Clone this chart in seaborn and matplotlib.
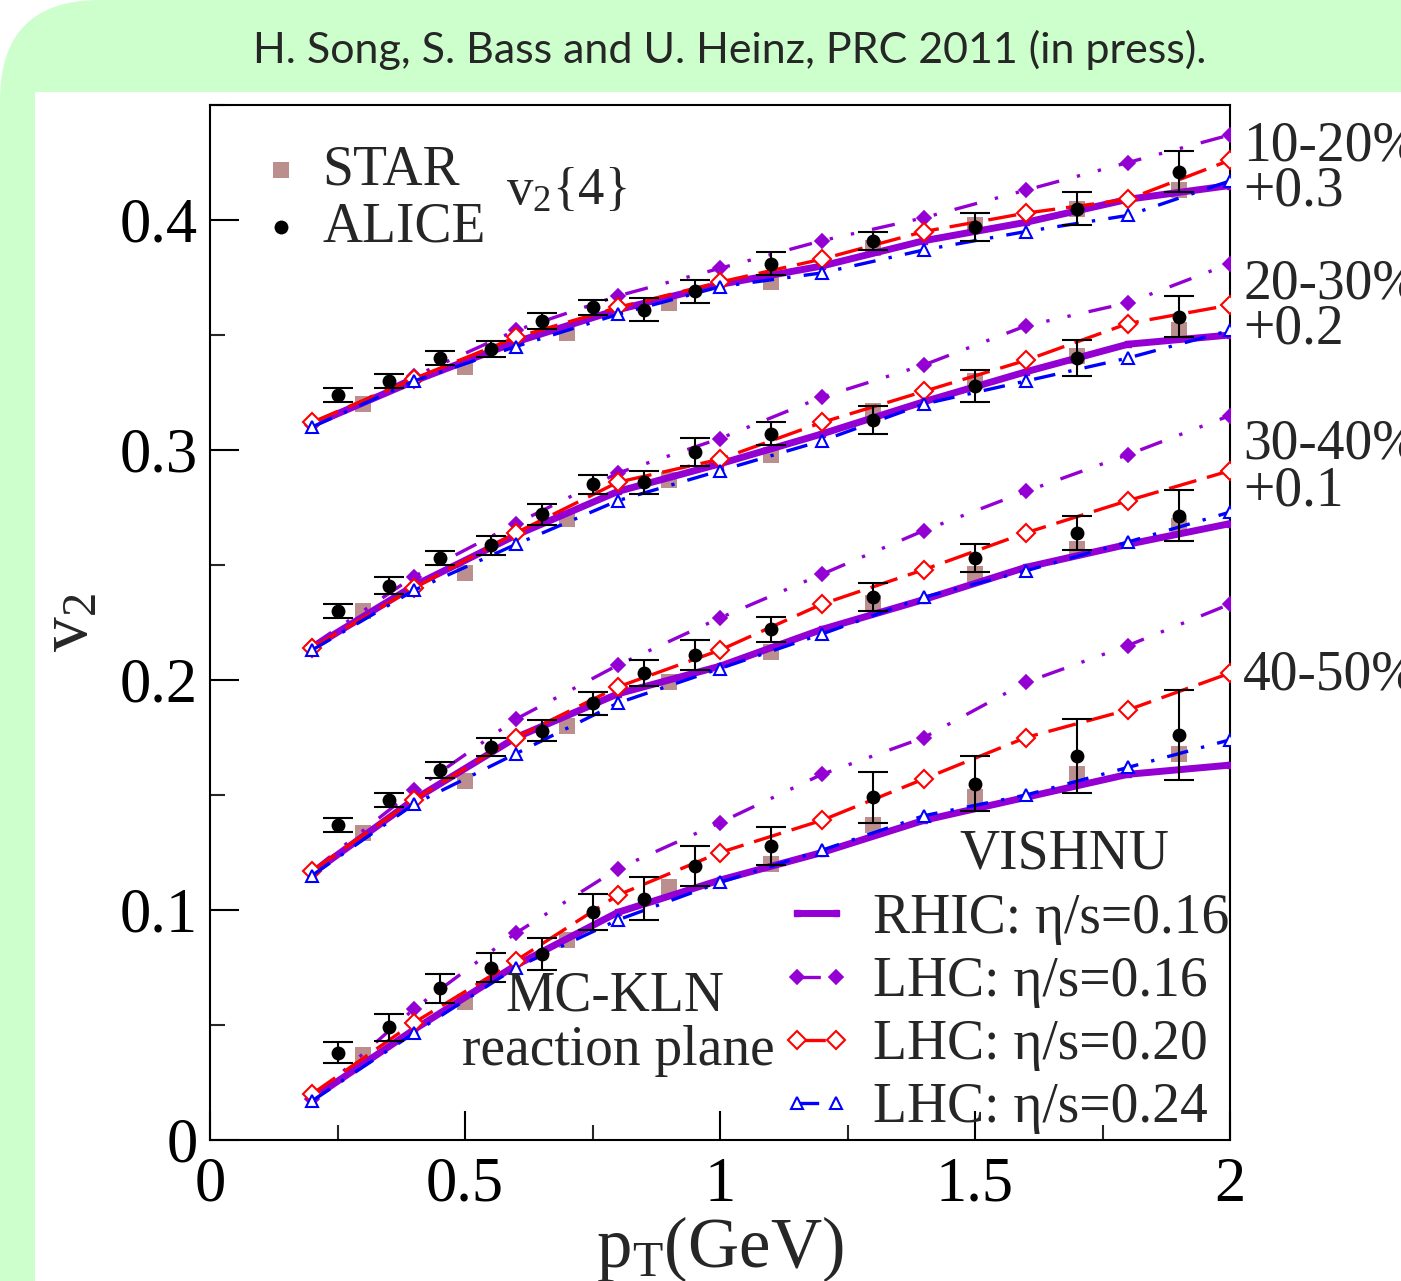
import numpy as np
import pandas as pd
import matplotlib
matplotlib.use("Agg")
import matplotlib.pyplot as plt
from matplotlib.patches import FancyBboxPatch, Rectangle
from matplotlib.transforms import IdentityTransform
from matplotlib.ticker import MultipleLocator
import seaborn as sns

# centrality classes and the vertical shifts used in the figure
centralities = ["10-20%", "20-30%", "30-40%", "40-50%"]
shift_labels = ["+0.3", "+0.2", "+0.1", ""]
shifts = [0.3, 0.2, 0.1, 0.0]

# VISHNU curves (unshifted v2), one row per centrality
pt_model = [0.2, 0.4, 0.6, 0.8, 1.0, 1.2, 1.4, 1.6, 1.8, 2.0]
rhic_016 = [
    [0.011, 0.030, 0.047, 0.061, 0.072, 0.080, 0.091, 0.099, 0.109, 0.115],
    [0.014, 0.041, 0.063, 0.082, 0.094, 0.107, 0.121, 0.134, 0.146, 0.150],
    [0.016, 0.048, 0.075, 0.094, 0.106, 0.122, 0.135, 0.149, 0.159, 0.168],
    [0.018, 0.048, 0.076, 0.099, 0.113, 0.125, 0.139, 0.149, 0.159, 0.163],
]
lhc_016 = [
    [0.011, 0.032, 0.052, 0.067, 0.079, 0.091, 0.101, 0.113, 0.125, 0.137],
    [0.015, 0.045, 0.068, 0.090, 0.105, 0.123, 0.137, 0.154, 0.164, 0.181],
    [0.017, 0.052, 0.083, 0.1065, 0.127, 0.146, 0.165, 0.182, 0.198, 0.215],
    [0.018, 0.057, 0.090, 0.118, 0.138, 0.159, 0.175, 0.199, 0.215, 0.233],
]
lhc_020 = [
    [0.012, 0.031, 0.049, 0.062, 0.073, 0.083, 0.095, 0.103, 0.109, 0.126],
    [0.014, 0.040, 0.064, 0.086, 0.096, 0.112, 0.1255, 0.139, 0.155, 0.163],
    [0.017, 0.048, 0.075, 0.097, 0.113, 0.133, 0.148, 0.164, 0.178, 0.191],
    [0.020, 0.051, 0.078, 0.1065, 0.125, 0.139, 0.157, 0.175, 0.187, 0.203],
]
lhc_024 = [
    [0.010, 0.030, 0.045, 0.059, 0.071, 0.077, 0.087, 0.095, 0.102, 0.117],
    [0.013, 0.039, 0.059, 0.078, 0.091, 0.104, 0.120, 0.130, 0.140, 0.152],
    [0.015, 0.046, 0.068, 0.090, 0.105, 0.120, 0.136, 0.1475, 0.160, 0.173],
    [0.017, 0.0465, 0.075, 0.0957, 0.112, 0.126, 0.141, 0.150, 0.162, 0.174],
]

# ALICE v2{4}
pt_alice = [0.25, 0.35, 0.45, 0.55, 0.65, 0.75, 0.85, 0.95, 1.1, 1.3, 1.5, 1.7, 1.9]
alice_v2 = [
    [0.024, 0.030, 0.040, 0.044, 0.056, 0.062, 0.061, 0.069, 0.081, 0.091, 0.097, 0.105, 0.121],
    [0.030, 0.041, 0.053, 0.0585, 0.072, 0.085, 0.086, 0.099, 0.107, 0.113, 0.128, 0.140, 0.158],
    [0.037, 0.048, 0.061, 0.071, 0.078, 0.090, 0.103, 0.111, 0.122, 0.136, 0.153, 0.164, 0.1715],
    [0.038, 0.049, 0.066, 0.075, 0.081, 0.099, 0.105, 0.119, 0.128, 0.149, 0.155, 0.167, 0.176],
]
alice_err = [
    [0.003, 0.003, 0.003, 0.0036, 0.0035, 0.0033, 0.005, 0.005, 0.005, 0.004, 0.006, 0.007, 0.009],
    [0.003, 0.0037, 0.003, 0.004, 0.0045, 0.0043, 0.005, 0.006, 0.005, 0.006, 0.007, 0.008, 0.009],
    [0.003, 0.003, 0.0035, 0.004, 0.0047, 0.005, 0.0058, 0.0065, 0.0055, 0.006, 0.006, 0.0075, 0.011],
    [0.0046, 0.006, 0.0063, 0.0065, 0.007, 0.0078, 0.0095, 0.0087, 0.0083, 0.011, 0.012, 0.016, 0.0196],
]

# STAR v2{4}
pt_star = [0.3, 0.5, 0.7, 0.9, 1.1, 1.3, 1.5, 1.7, 1.9]
star_v2 = [
    [0.020, 0.036, 0.051, 0.064, 0.073, 0.088, 0.098, 0.105, 0.113],
    [0.030, 0.0465, 0.070, 0.087, 0.098, 0.117, 0.130, 0.141, 0.152],
    [0.0335, 0.056, 0.080, 0.099, 0.112, 0.1335, 0.146, 0.157, 0.167],
    [0.037, 0.060, 0.087, 0.110, 0.120, 0.137, 0.149, 0.159, 0.168],
]

x_ticks = [0, 0.5, 1, 1.5, 2]
x_ticklabels = ["0", "0.5", "1", "1.5", "2"]
y_ticks = [0, 0.1, 0.2, 0.3, 0.4]
y_ticklabels = ["0", "0.1", "0.2", "0.3", "0.4"]

model_names = ["RHIC: \u03b7/s=0.16", "LHC: \u03b7/s=0.16", "LHC: \u03b7/s=0.20", "LHC: \u03b7/s=0.24"]
model_values = [rhic_016, lhc_016, lhc_020, lhc_024]

rows = []
for name, vals in zip(model_names, model_values):
    for cent, sh, curve in zip(centralities, shifts, vals):
        for p, v in zip(pt_model, curve):
            rows.append({"model": name, "cent": cent, "pt": p, "v2": v + sh})
model_df = pd.DataFrame(rows)

rows = []
for cent, sh, vals, errs in zip(centralities, shifts, alice_v2, alice_err):
    for p, v, e in zip(pt_alice, vals, errs):
        rows.append({"cent": cent, "pt": p, "v2": v + sh, "err": e})
alice_df = pd.DataFrame(rows)

rows = []
for cent, sh, vals in zip(centralities, shifts, star_v2):
    for p, v in zip(pt_star, vals):
        rows.append({"cent": cent, "pt": p, "v2": v + sh})
star_df = pd.DataFrame(rows)

sns.set_style("ticks")
plt.rcParams["font.family"] = ["Liberation Serif", "DejaVu Serif"]
plt.rcParams["mathtext.fontset"] = "custom"
plt.rcParams["mathtext.rm"] = "Liberation Serif"
plt.rcParams["mathtext.it"] = "Liberation Serif:italic"

violet = "#9400d3"
styles = {
    model_names[0]: dict(color=violet, linewidth=5, linestyle="-", marker="s", markersize=5,
                         markerfacecolor=violet, markeredgecolor=violet, markeredgewidth=1),
    model_names[1]: dict(color=violet, linewidth=2.4, linestyle=(0, (7, 5.5, 1, 5.5, 1, 5.5)),
                         marker="D", markersize=7, markerfacecolor=violet,
                         markeredgecolor=violet, markeredgewidth=1.2),
    model_names[2]: dict(color="red", linewidth=2.4, linestyle=(0, (8.5, 3.3)),
                         marker="D", markersize=9, markerfacecolor="white",
                         markeredgecolor="red", markeredgewidth=1.5),
    model_names[3]: dict(color="blue", linewidth=2.4, linestyle=(0, (6.5, 4, 1, 4)),
                         marker="^", markersize=9, markerfacecolor="white",
                         markeredgecolor="blue", markeredgewidth=1.5),
}

fig = plt.figure(figsize=(14.01, 12.81), dpi=100)
fig.patch.set_facecolor("white")
green = FancyBboxPatch((0, -300), 1701, 1581, boxstyle="round,pad=0,rounding_size=100",
                       transform=IdentityTransform(), facecolor="#ccffcc",
                       edgecolor="none", zorder=-10)
fig.add_artist(green)
panel = Rectangle((35, 0), 1400, 1189, transform=IdentityTransform(),
                  facecolor="white", edgecolor="none", zorder=-9)
fig.add_artist(panel)

ax = fig.add_axes([210 / 1401, 1 - 1140 / 1281, 1020 / 1401, 1035 / 1281])

# STAR below the curves
sns.scatterplot(data=star_df, x="pt", y="v2", marker="s", s=120,
                color="#bc8f8f", edgecolor="#bc8f8f", linewidth=0,
                ax=ax, zorder=1)
star_handle = ax.collections[-1]

model_handles = []
for name in model_names:
    sub = model_df[model_df["model"] == name]
    sns.lineplot(data=sub, x="pt", y="v2", units="cent", estimator=None, sort=False,
                 ax=ax, zorder=3, **styles[name])
    model_handles.append(ax.lines[-1])

ax.errorbar(alice_df["pt"], alice_df["v2"], yerr=alice_df["err"], fmt="none",
            ecolor="black", elinewidth=1.5, capsize=11, capthick=1.5, zorder=4)
sns.scatterplot(data=alice_df, x="pt", y="v2", marker="o", s=100, color="black",
                edgecolor="black", linewidth=0, ax=ax, zorder=5)
alice_handle = ax.collections[-1]

ax.set_xlim(0, 2)
ax.set_ylim(0, 0.45)
ax.set_xticks(x_ticks)
ax.set_xticklabels(x_ticklabels)
ax.set_yticks(y_ticks)
ax.set_yticklabels(y_ticklabels)
ax.xaxis.set_minor_locator(MultipleLocator(0.25))
ax.yaxis.set_minor_locator(MultipleLocator(0.05))
ax.tick_params(which="major", direction="in", length=21, width=1.5, top=False,
               right=False, labelsize=45, colors="black")
ax.tick_params(which="minor", direction="in", length=11, width=1.5, top=False, right=False)
ax.tick_params(axis="x", pad=12)
ax.tick_params(axis="y", pad=9)
for sp in ax.spines.values():
    sp.set_linewidth(1.5)
    sp.set_color("black")

ax.set_xlabel("p$_{\\rm T}$(GeV)", fontsize=51, labelpad=0)
ax.set_ylabel("v$_2$", fontsize=50, labelpad=12)

leg1 = ax.legend([star_handle, alice_handle], ["STAR", "ALICE"], loc="upper left",
                 bbox_to_anchor=(0.042, 0.962), frameon=False, fontsize=40,
                 handlelength=1.0, handletextpad=0.25, labelspacing=0.1,
                 borderpad=0.0, borderaxespad=0.0, scatterpoints=1)
ax.add_artist(leg1)
ax.legend(model_handles, model_names, loc="lower right", bbox_to_anchor=(1.037, -0.032),
          frameon=False, fontsize=40, handlelength=1.3, handletextpad=0.36,
          labelspacing=0.2, borderpad=0.2, numpoints=2)

ax.text(0.58, 0.4065, "v$_2${4}", fontsize=38, ha="left", va="baseline")
ax.text(1.676, 0.118, "VISHNU", fontsize=40, ha="center", va="baseline")
ax.text(0.794, 0.0565, "MC-KLN", fontsize=40, ha="center", va="baseline")
ax.text(0.80, 0.0326, "reaction plane", fontsize=40, ha="center", va="baseline")

cent_y = [0.426, 0.366, 0.2965, 0.1957]
shift_y = [0.4065, 0.3465, 0.276, 0.0]
for lab, sl, cy, sy in zip(centralities, shift_labels, cent_y, shift_y):
    ax.text(2.0255, cy, lab, fontsize=40, ha="left", va="baseline", clip_on=False)
    if sl:
        ax.text(2.0255, sy, sl, fontsize=40, ha="left", va="baseline", clip_on=False)

fig.text(730 / 1401, 1 - 50 / 1281, "H. Song, S. Bass and U. Heinz, PRC 2011 (in press).",
         fontsize=31, ha="center", va="center", family=["Lato", "DejaVu Sans"])

fig.savefig("out.png", dpi=100)
